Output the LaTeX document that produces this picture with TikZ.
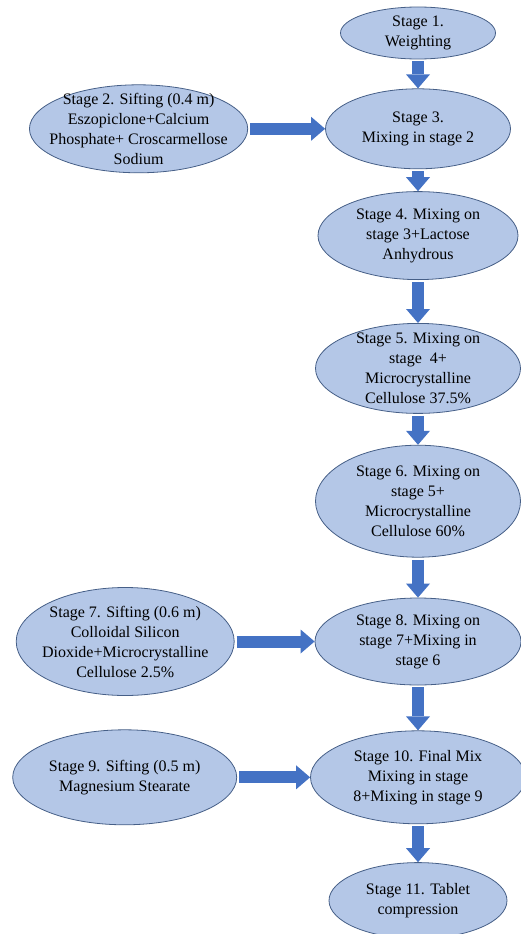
\documentclass[tikz,border=0pt]{standalone}
\usepackage{fontspec}
\setmainfont{Liberation Serif}
\usetikzlibrary{arrows.meta,positioning,shapes.geometric}
\definecolor{fillE}{RGB}{180,199,231}
\definecolor{lineE}{RGB}{70,95,135}
\definecolor{arrB}{RGB}{68,114,196}
\tikzset{
  stage/.style={ellipse,draw=lineE,fill=fillE,line width=0.8pt,inner sep=-12pt,
    align=center,font=\fontsize{16}{20}\selectfont},
  blk/.style={line width=12pt,draw=arrB,-{Triangle[length=14pt,width=24pt,line width=0pt]},
    shorten <=2pt},
}

\begin{document}
\begin{tikzpicture}
  \useasboundingbox (0,0) rectangle (520pt,-934pt);
  % main column
  \node[stage,minimum width=155pt,minimum height=52pt] (S1) at (418pt,-33pt) {Stage 1.\\Weighting};
  \node[stage,minimum width=185pt,minimum height=80pt,below=29pt of S1] (S3) {Stage 3.\\Mixing in stage 2};
  \node[stage,minimum width=200pt,minimum height=88pt,below=22pt of S3] (S4) {Stage 4. Mixing on\\stage 3+Lactose\\Anhydrous};
  \node[stage,minimum width=205pt,minimum height=90pt,below=43pt of S4] (S5) {Stage 5. Mixing on\\stage \ 4+\\Microcrystalline\\Cellulose 37.5\%};
  \node[stage,minimum width=205pt,minimum height=112pt,below=31pt of S5] (S6) {Stage 6. Mixing on\\stage 5+\\Microcrystalline\\Cellulose 60\%};
  \node[stage,minimum width=206pt,minimum height=87pt,below=40pt of S6] (S8) {Stage 8. Mixing on\\stage 7+Mixing in\\stage 6};
  \node[stage,minimum width=215pt,minimum height=93pt,below=45pt of S8] (S10) {Stage 10. Final Mix\\Mixing in stage\\8+Mixing in stage 9};
  \node[stage,minimum width=178pt,minimum height=76pt,below=38pt of S10] (S11) {Stage 11. Tablet\\compression};
  % sifting stages
  \node[stage,minimum width=213pt,minimum height=88pt,left=77pt of S3] (S2) {Stage 2. Sifting (0.4 m)\\Eszopiclone+Calcium\\Phosphate+ Croscarmellose\\Sodium};
  \node[stage,minimum width=218pt,minimum height=108pt,left=80pt of S8] (S7) {Stage 7. Sifting (0.6 m)\\Colloidal Silicon\\Dioxide+Microcrystalline\\Cellulose 2.5\%};
  \node[stage,minimum width=224pt,minimum height=95pt,left=73pt of S10] (S9) {Stage 9. Sifting (0.5 m)\\Magnesium Stearate};
  % arrows
  \draw[blk] (S1) -- (S3);
  \draw[blk] (S3) -- (S4);
  \draw[blk] (S4) -- (S5);
  \draw[blk] (S5) -- (S6);
  \draw[blk] (S6) -- (S8);
  \draw[blk] (S8) -- (S10);
  \draw[blk] (S10) -- (S11);
  \draw[blk] (S2.east) -- (S3.west);
  \draw[blk] (S7.east) -- (S8.west);
  \draw[blk] (S9.east) -- (S10.west);
\end{tikzpicture}
\end{document}
